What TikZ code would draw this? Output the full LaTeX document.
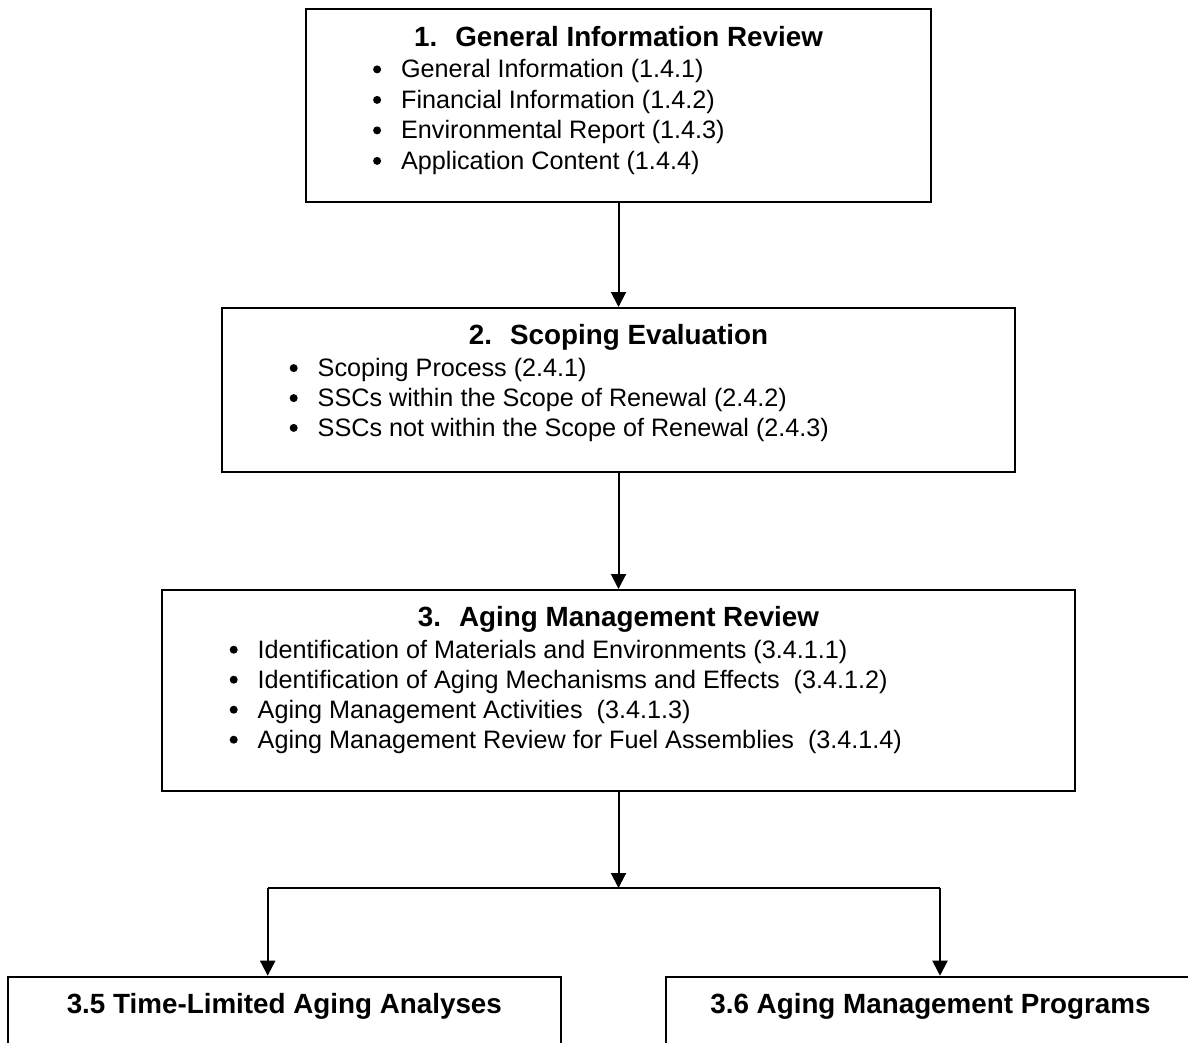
\documentclass[tikz,border=0pt]{standalone}
\usepackage{fontspec}
\setmainfont{Liberation Sans}
\usetikzlibrary{arrows.meta}
\begin{document}
\begin{tikzpicture}[x=0.5pt,y=-0.5pt,
  box/.style={draw, line width=1pt, inner sep=0pt, rectangle},
  ttl/.style={font=\fontsize{13.9}{16}\selectfont\bfseries, anchor=base, inner sep=0pt},
  itm/.style={font=\fontsize{12.6}{15}\selectfont, anchor=base west, inner sep=0pt},
  conn/.style={line width=1pt},
  arr/.style={line width=1pt, -{Triangle[width=7.5pt,length=7.5pt]}}]
\useasboundingbox (0,0) rectangle (1188,1043);
% boxes
\node[box, minimum width=312.65pt, minimum height=96.35pt] (b1) at (618.5,105.35) {};
\node[box, minimum width=396.65pt, minimum height=81.85pt] (b2) at (618.5,389.85) {};
\node[box, minimum width=456.8pt, minimum height=100.5pt] (b3) at (618.5,690.5) {};
\node[box, minimum width=276.35pt, minimum height=61.65pt] (b35) at (284.35,1038.35) {};
\node[box, minimum width=264.5pt, minimum height=61.65pt] (b36) at (930.5,1038.35) {};
% box 1 text
\node[ttl] (t1) at (618.5,47) {1.~ General Information Review};
\node[itm] (i11) at (400.7,78) {General Information (1.4.1)};
\node[itm] (i12) at (400.7,108.5) {Financial Information (1.4.2)};
\node[itm] (i13) at (400.7,139) {Environmental Report (1.4.3)};
\node[itm] (i14) at (400.7,169.5) {Application Content (1.4.4)};
% box 2 text
\node[ttl] (t2) at (618.5,344.3) {2.~ Scoping Evaluation};
\node[itm] (i21) at (317.3,376.7) {Scoping Process (2.4.1)};
\node[itm] (i22) at (317.3,406.7) {SSCs within the Scope of Renewal (2.4.2)};
\node[itm] (i23) at (317.3,436.5) {SSCs not within the Scope of Renewal (2.4.3)};
% box 3 text
\node[ttl] (t3) at (618.5,626) {3.~ Aging Management Review};
\node[itm] (i31) at (257.3,658.3) {Identification of Materials and Environments (3.4.1.1)};
\node[itm] (i32) at (257.3,688.3) {Identification of Aging Mechanisms and Effects~ (3.4.1.2)};
\node[itm] (i33) at (257.3,718.3) {Aging Management Activities~ (3.4.1.3)};
\node[itm] (i34) at (257.3,748.3) {Aging Management Review for Fuel Assemblies~ (3.4.1.4)};
% bullets
\foreach \n in {i11,i12,i13,i14,i21,i22,i23,i31,i32,i33,i34}
  \fill ([xshift=-11.8pt,yshift=4.3pt]\n.base west) circle[radius=2pt];
% bottom titles
\node[ttl] (t35) at (284.35,1013) {3.5 Time-Limited Aging Analyses};
\node[ttl] (t36) at (930.5,1013) {3.6 Aging Management Programs};
% connectors
\coordinate (brC) at (618.5,888);
\coordinate (brL) at (267.7,888);
\coordinate (brR) at (940,888);
\draw[arr] (b1.south) -- (b2.north);
\draw[arr] (b2.south) -- (b3.north);
\draw[arr] (b3.south) -- (brC);
\draw[conn] (brL) -- (brR);
\draw[arr] (brL) -- (brL |- b35.north);
\draw[arr] (brR) -- (brR |- b36.north);
\end{tikzpicture}
\end{document}
